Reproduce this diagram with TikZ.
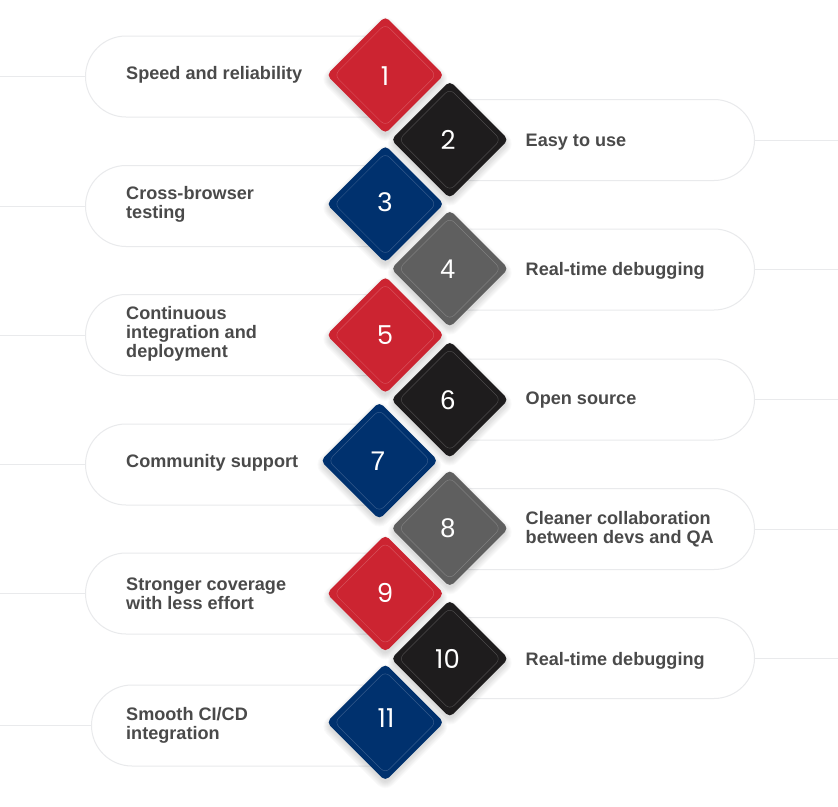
\documentclass[tikz,border=0pt]{standalone}
\usepackage{fontspec}
\setmainfont{Liberation Sans}
\newfontfamily\numfont{Poppins}
\usetikzlibrary{shapes.misc}
\definecolor{tred}{HTML}{CC2431}
\definecolor{tblack}{HTML}{1E1C1D}
\definecolor{tnavy}{HTML}{00316E}
\definecolor{tgrey}{HTML}{5F5F5F}
\definecolor{pillline}{HTML}{E9EAEC}
\definecolor{txt}{HTML}{4A4A4A}
\tikzset{
  x=1pt,y=-1pt,
  pillL/.style={rounded rectangle,rounded rectangle right arc=none,draw=pillline,line width=1pt,fill=white,minimum height=81pt,inner sep=0pt,anchor=west},
  pillR/.style={rounded rectangle,rounded rectangle left arc=none,draw=pillline,line width=1pt,fill=white,minimum height=81pt,inner sep=0pt,anchor=east},
  wire/.style={draw=pillline,line width=1pt},
  label/.style={font=\bfseries\fontsize{18.1}{19}\selectfont,text=txt,align=left,anchor=west,inner sep=0pt},
  tile/.style={rectangle,rotate=45,minimum size=83pt,inner sep=0pt,rounded corners=5pt,fill=#1},
  halo/.style={rectangle,rotate=45,inner sep=0pt,fill=black,fill opacity=.018},
  inner/.style={rectangle,rotate=45,minimum size=72pt,inner sep=0pt,rounded corners=6pt,draw=white,draw opacity=.2,line width=.5pt},
  numA/.style={font=\numfont\fontsize{26}{26}\selectfont,text=white,inner sep=0pt},
  numB/.style={font=\fontsize{27}{27}\selectfont,text=white,inner sep=0pt},
}
\newcommand{\leftpill}[4]{% name, left x, right x, centre y
  \pgfmathsetmacro{\w}{#3-#2}
  \node[pillL,minimum width=\w pt] (p#1) at (#2,#4) {};
  \coordinate (e#1) at (0,#4);
  \draw[wire] (p#1.west) -- (e#1);
}
\newcommand{\rightpill}[4]{%
  \pgfmathsetmacro{\w}{#3-#2}
  \node[pillR,minimum width=\w pt] (p#1) at (#3,#4) {};
  \coordinate (e#1) at (838,#4);
  \draw[wire] (p#1.east) -- (e#1);
}
\newcommand{\tilenode}[7]{% n, x, y, colour, number x, number y, number style
  \foreach \k in {0,...,6}{
    \pgfmathsetmacro{\s}{82+2*\k}
    \pgfmathsetmacro{\r}{5+\k}
    \node[halo,minimum size=\s pt,rounded corners=\r pt] (s#1-\k) at (#2,#3+4) {};
  }
  \node[tile=#4] (d#1) at (#2,#3) {};
  \node[inner] (i#1) at (#2,#3) {};
  \node[#7] (n#1) at (#5,#6) {#1};
}
\begin{document}
\begin{tikzpicture}
\useasboundingbox (0,0) rectangle (838,806);
\fill[white] (0,0) rectangle (838,806);
\leftpill{1}{85}{385}{76.5}
\rightpill{2}{449}{755}{140}
\leftpill{3}{85}{385}{206}
\rightpill{4}{449}{755}{269.5}
\leftpill{5}{85}{385}{335}
\rightpill{6}{449}{755}{399.5}
\leftpill{7}{85}{380}{464.5}
\rightpill{8}{449}{755}{529}
\leftpill{9}{85}{385}{593.5}
\rightpill{10}{449}{755}{658}
\leftpill{11}{91}{385}{725.5}
\node[label] (t1) at (126,75) {Speed and reliability};
\node[label] (t2) at (525.5,142) {Easy to use};
\node[label] (t3) at (126,204) {Cross-browser\\testing};
\node[label] (t4) at (525.5,271) {Real-time debugging};
\node[label] (t5) at (126,333.5) {Continuous\\integration and\\deployment};
\node[label] (t6) at (525.5,400) {Open source};
\node[label] (t7) at (126,463) {Community support};
\node[label] (t8) at (525.5,529) {Cleaner collaboration\\between devs and QA};
\node[label] (t9) at (126,593.5) {Stronger coverage\\with less effort};
\node[label] (t10) at (525.5,661) {Real-time debugging};
\node[label] (t11) at (126,725) {Smooth CI/CD\\integration};
\tilenode{1}{385.3}{75}{tred}{385}{76}{numA}
\tilenode{2}{449.8}{139.7}{tblack}{448}{140}{numA}
\tilenode{3}{385.3}{204}{tnavy}{385}{202}{numB}
\tilenode{4}{449.8}{268.7}{tgrey}{448}{269.3}{numB}
\tilenode{5}{385.3}{335}{tred}{385}{335}{numA}
\tilenode{6}{449.8}{399.7}{tblack}{448}{400}{numB}
\tilenode{7}{379.3}{460.7}{tnavy}{378}{461}{numB}
\tilenode{8}{449.8}{528.3}{tgrey}{448}{528.3}{numB}
\tilenode{9}{385.3}{593.5}{tred}{385}{593}{numA}
\tilenode{10}{449.8}{658.7}{tblack}{447.5}{659.3}{numA}
\tilenode{11}{385.3}{722.3}{tnavy}{386}{718.5}{numA}
\end{tikzpicture}
\end{document}
